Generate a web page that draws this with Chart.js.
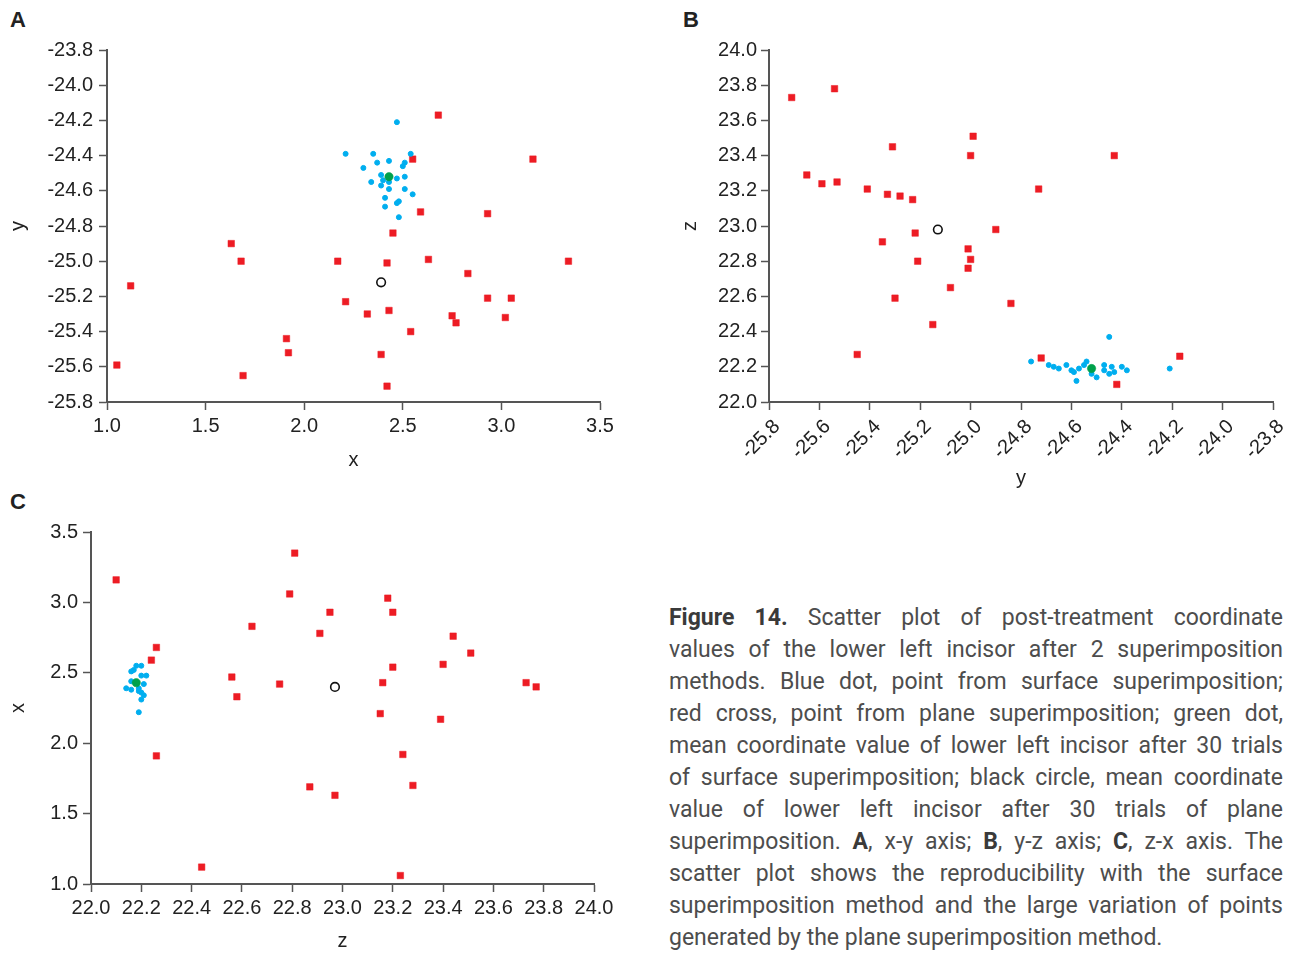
<!DOCTYPE html>
<html>
<head>
<meta charset="utf-8">
<script src="https://cdn.jsdelivr.net/npm/chart.js@4.4.1/dist/chart.umd.min.js"></script>
<style>
  body { margin: 0; width: 1295px; height: 953px; background: #fff; position: relative; overflow: hidden; }
  canvas { position: absolute; }
  .tag { position: absolute; font: bold 22px "Liberation Sans", Arial, sans-serif; color: #222; }
  .caption { position: absolute; left: 669px; top: 602px; width: 614px; font: 23px Roboto, sans-serif; line-height: 32px; color: #4d4d4d; }
  .caption div { text-align: justify; text-align-last: justify; }
  .caption div.last { text-align-last: left; }
  .caption b { color: #3a3a3a; }
</style>
</head>
<body>
<div class="tag" style="left:10px;top:7px">A</div>
<div class="tag" style="left:683px;top:7px">B</div>
<div class="tag" style="left:10px;top:489px">C</div>

<canvas id="chartA" width="625" height="455" style="left:0;top:30px"></canvas>
<canvas id="chartB" width="635" height="470" style="left:660px;top:30px"></canvas>
<canvas id="chartC" width="620" height="441" style="left:0;top:512px"></canvas>

<div class="caption">
  <div><b>Figure 14.</b> Scatter plot of post-treatment coordinate</div>
  <div>values of the lower left incisor after 2 superimposition</div>
  <div>methods. Blue dot, point from surface superimposition;</div>
  <div>red cross, point from plane superimposition; green dot,</div>
  <div>mean coordinate value of lower left incisor after 30 trials</div>
  <div>of surface superimposition; black circle, mean coordinate</div>
  <div>value of lower left incisor after 30 trials of plane</div>
  <div>superimposition. <b>A</b>, x-y axis; <b>B</b>, y-z axis; <b>C</b>, z-x axis. The</div>
  <div>scatter plot shows the reproducibility with the surface</div>
  <div>superimposition method and the large variation of points</div>
  <div class="last">generated by the plane superimposition method.</div>
</div>

<script>
// A: x-y
const planeXY = [[1.63,-24.90],[1.68,-25.00],[2.17,-25.00],[1.12,-25.14],[1.91,-25.44],[1.92,-25.52],[1.05,-25.59],[1.69,-25.65],
  [2.68,-24.17],[2.55,-24.42],[3.16,-24.42],[2.59,-24.72],[2.93,-24.73],[2.45,-24.84],[2.42,-25.01],[2.63,-24.99],[3.34,-25.00],
  [2.83,-25.07],[2.21,-25.23],[2.32,-25.30],[2.43,-25.28],[2.93,-25.21],[3.05,-25.21],[2.75,-25.31],[2.77,-25.35],[3.02,-25.32],
  [2.54,-25.40],[2.39,-25.53],[2.42,-25.71]];
const surfaceXY = [[2.47,-24.21],[2.21,-24.39],[2.35,-24.39],[2.54,-24.39],[2.30,-24.47],[2.37,-24.44],[2.43,-24.43],[2.51,-24.44],
  [2.50,-24.46],[2.39,-24.51],[2.47,-24.53],[2.51,-24.52],[2.34,-24.55],[2.39,-24.57],[2.43,-24.55],[2.43,-24.59],[2.51,-24.59],
  [2.55,-24.62],[2.41,-24.64],[2.41,-24.69],[2.47,-24.67],[2.48,-24.66],[2.48,-24.75],[2.40,-24.54]];
const surfaceMeanXY = [[2.43,-24.52]];
const planeMeanXY = [[2.39,-25.12]];
const ticksAx = [1.0, 1.5, 2.0, 2.5, 3.0, 3.5];
const ticksAy = [-25.8, -25.6, -25.4, -25.2, -25.0, -24.8, -24.6, -24.4, -24.2, -24.0, -23.8];

// B: y-z
const planeYZ = [[-25.71,23.73],[-25.54,23.78],[-24.99,23.51],[-25.31,23.45],[-25.00,23.40],[-25.65,23.29],[-25.59,23.24],
  [-25.53,23.25],[-25.41,23.21],[-25.33,23.18],[-25.28,23.17],[-25.23,23.15],[-25.22,22.96],[-24.90,22.98],[-25.35,22.91],
  [-25.01,22.87],[-25.00,22.81],[-25.21,22.80],[-25.01,22.76],[-25.08,22.65],[-25.30,22.59],[-24.84,22.56],[-25.15,22.44],
  [-25.45,22.27],[-24.43,23.40],[-24.73,23.21],[-24.72,22.25],[-24.17,22.26],[-24.42,22.10]];
const surfaceYZ = [[-24.45,22.37],[-24.76,22.23],[-24.69,22.21],[-24.67,22.20],[-24.65,22.19],[-24.62,22.21],[-24.60,22.18],
  [-24.59,22.17],[-24.58,22.12],[-24.57,22.19],[-24.55,22.21],[-24.54,22.23],[-24.52,22.16],[-24.50,22.14],[-24.47,22.21],
  [-24.47,22.18],[-24.45,22.16],[-24.44,22.20],[-24.43,22.17],[-24.40,22.20],[-24.38,22.18],[-24.21,22.19]];
const surfaceMeanYZ = [[-24.52,22.19]];
const planeMeanYZ = [[-25.13,22.98]];
const ticksBx = [-25.8, -25.6, -25.4, -25.2, -25.0, -24.8, -24.6, -24.4, -24.2, -24.0, -23.8];
const ticksBy = [22.0, 22.2, 22.4, 22.6, 22.8, 23.0, 23.2, 23.4, 23.6, 23.8, 24.0];

// C: z-x
const planeZX = [[22.81,3.35],[22.10,3.16],[22.79,3.06],[22.95,2.93],[22.64,2.83],[22.91,2.78],[22.26,2.68],[22.24,2.59],
  [22.56,2.47],[22.75,2.42],[22.58,2.33],[22.26,1.91],[22.87,1.69],[22.97,1.63],[22.44,1.12],[23.18,3.03],[23.20,2.93],
  [23.44,2.76],[23.51,2.64],[23.40,2.56],[23.20,2.54],[23.16,2.43],[23.73,2.43],[23.77,2.40],[23.15,2.21],[23.39,2.17],
  [23.24,1.92],[23.28,1.70],[23.23,1.06]];
const surfaceZX = [[22.18,2.55],[22.20,2.55],[22.16,2.51],[22.17,2.52],[22.20,2.48],[22.22,2.48],[22.16,2.44],[22.21,2.42],
  [22.14,2.39],[22.16,2.38],[22.19,2.39],[22.19,2.37],[22.20,2.36],[22.21,2.34],[22.20,2.31],[22.19,2.22]];
const surfaceMeanZX = [[22.18,2.43]];
const planeMeanZX = [[22.97,2.40]];
const ticksCx = [22.0, 22.2, 22.4, 22.6, 22.8, 23.0, 23.2, 23.4, 23.6, 23.8, 24.0];
const ticksCy = [1.0, 1.5, 2.0, 2.5, 3.0, 3.5];

const red = '#ed1c24';
const blue = '#00aeef';
const green = '#00a14b';
const ink = '#222';
const axisGrey = '#555';
const fontFamily = '"Liberation Sans", Arial, sans-serif';

const toPts = (arr) => arr.map(([x, y]) => ({ x, y }));

// first dataset ends up on top
const makeDatasets = (plane, surface, surfMean, planeMean) => [
  { data: toPts(planeMean), pointStyle: 'circle', pointRadius: 4.3, borderWidth: 1.6, borderColor: '#111', backgroundColor: 'rgba(0,0,0,0)' },
  { data: toPts(surfMean), pointStyle: 'circle', pointRadius: 4.2, borderWidth: 0.5, borderColor: green, backgroundColor: green },
  { data: toPts(surface), pointStyle: 'circle', pointRadius: 2.5, borderWidth: 1, borderColor: blue, backgroundColor: blue },
  { data: toPts(plane), pointStyle: 'rect', pointRadius: 4.6, borderWidth: 0.5, borderColor: red, backgroundColor: red },
];

const makeScale = (position, tickVals, title, size, opts) => ({
  type: 'linear',
  position,
  min: tickVals[0],
  max: tickVals[tickVals.length - 1],
  afterBuildTicks: (s) => { s.ticks = tickVals.map((v) => ({ value: v })); },
  afterFit: (s) => {
    if (position === 'left') s.width = size;
    else s.height = size;
  },
  border: { display: true, color: axisGrey, width: 2 },
  grid: { drawOnChartArea: false, drawTicks: true, tickLength: 8, tickWidth: 1.5, color: axisGrey },
  ticks: {
    color: ink,
    font: { family: fontFamily, size: 20 },
    padding: opts.tickPad,
    labelOffset: opts.labelOffset || 0,
    minRotation: opts.rotate || 0,
    maxRotation: opts.rotate || 0,
    autoSkip: false,
    callback: (v) => Number(v).toFixed(1),
  },
  title: {
    display: true,
    text: title,
    color: ink,
    font: { family: fontFamily, size: 20 },
    padding: opts.titlePad,
  },
});

const initChart = (id, sets, scales, padding) => new Chart(document.getElementById(id), {
  type: 'scatter',
  data: { datasets: sets },
  options: {
    responsive: false,
    animation: false,
    devicePixelRatio: 1,
    layout: { padding },
    plugins: { legend: { display: false }, tooltip: { enabled: false } },
    scales,
  },
});

initChart('chartA',
  makeDatasets(planeXY, surfaceXY, surfaceMeanXY, planeMeanXY),
  {
    x: makeScale('bottom', ticksAx, 'x', 83, { tickPad: 4, titlePad: { top: 0, bottom: 13 } }),
    y: makeScale('left', ticksAy, 'y', 107, { tickPad: 6, titlePad: { top: 6, bottom: 0 } }),
  },
  { top: 20, right: 25, bottom: 0, left: 0 });

initChart('chartB',
  makeDatasets(planeYZ, surfaceYZ, surfaceMeanYZ, planeMeanYZ),
  {
    x: makeScale('bottom', ticksBx, 'y', 98, { tickPad: 5, rotate: 45, labelOffset: 8, titlePad: { top: 0, bottom: 10 } }),
    y: makeScale('left', ticksBy, 'z', 109, { tickPad: 4, titlePad: { top: 18, bottom: 0 } }),
  },
  { top: 20, right: 12, bottom: 0, left: 0 });

initChart('chartC',
  makeDatasets(planeZX, surfaceZX, surfaceMeanZX, planeMeanZX),
  {
    x: makeScale('bottom', ticksCx, 'z', 69, { tickPad: 4, titlePad: { top: 0, bottom: 0 } }),
    y: makeScale('left', ticksCy, 'x', 91, { tickPad: 5, titlePad: { top: 6, bottom: 0 } }),
  },
  { top: 20, right: 26, bottom: 0, left: 0 });
</script>
</body>
</html>
